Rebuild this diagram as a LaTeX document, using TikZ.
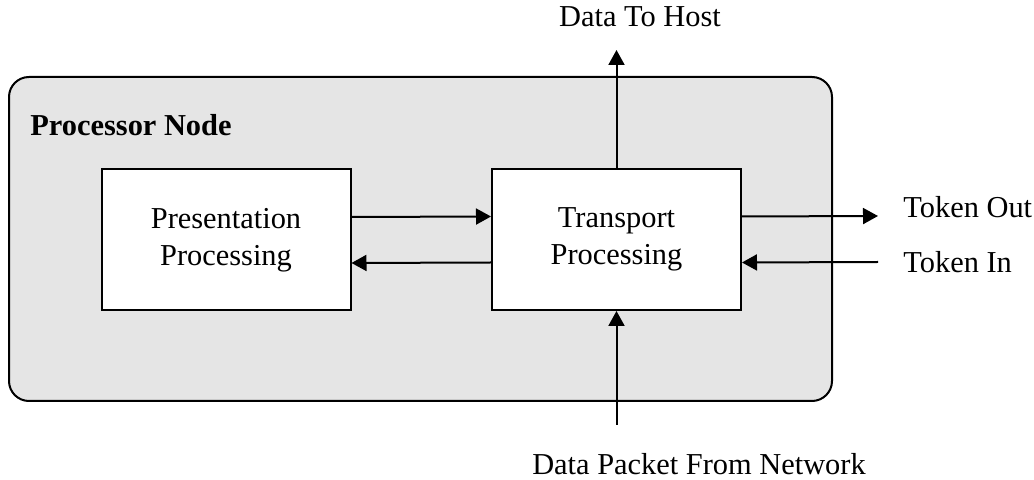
\documentclass[tikz,border=0pt]{standalone}
\usepackage{fontspec}
\setmainfont{Liberation Serif}
\usepackage{tikz}
\usepackage{xcolor}
\usetikzlibrary{arrows.meta}
\definecolor{framegray}{HTML}{E5E5E5}

\begin{document}
\begin{tikzpicture}[x=0.5pt,y=-0.5pt,
    font=\fontsize{15.2}{18.5}\selectfont,
    every node/.style={inner sep=0pt},
    unit/.style={draw, fill=white, line width=1pt, align=center,
                 minimum width=124.5pt, minimum height=70.5pt},
    flow/.style={line width=1pt, -{Triangle[length=7.5pt,width=8pt]}}]
                \useasboundingbox (0,0) rectangle (1034,480);
                % Processor frame
                \draw[line width=1pt, fill=framegray, rounded corners=10pt] (9,77) rectangle (832,401);
                \node[anchor=base west, font=\fontsize{15.2}{18.5}\selectfont\bfseries] (title) at (30,136) {Processor Node};
                % Processing units
                \node[unit] (pres) at (226,240) {Presentation\\Processing};
                \node[unit] (trans) at (616.5,239.5) {Transport\\Processing};
                \draw[flow] ([yshift=11.5pt]pres.east) -- ([yshift=11.5pt]trans.west);
                \draw[flow] ([yshift=-11.5pt]trans.west) -- ([yshift=-11.5pt]pres.east);
                % External links
                \coordinate (host) at (616.5,50);
                \coordinate (tokout) at (878,216);
                \coordinate (tokin) at (878,262);
                \coordinate (net) at (616.5,425);
                \draw[flow] (trans.north) -- (host);
                \draw[flow] ([yshift=11.5pt]trans.east) -- (tokout);
                \draw[flow] (tokin) -- ([yshift=-11.5pt]trans.east);
                \draw[flow] (net) -- (trans.south);
                \node[anchor=base] (hostlbl) at (640,27) {Data To Host};
                \node[anchor=base west] (outlbl) at (903,218) {Token Out};
                \node[anchor=base west] (inlbl) at (903,273) {Token In};
                \node[anchor=base] (netlbl) at (699,475) {Data Packet From Network};
            \end{tikzpicture}
\end{document}
